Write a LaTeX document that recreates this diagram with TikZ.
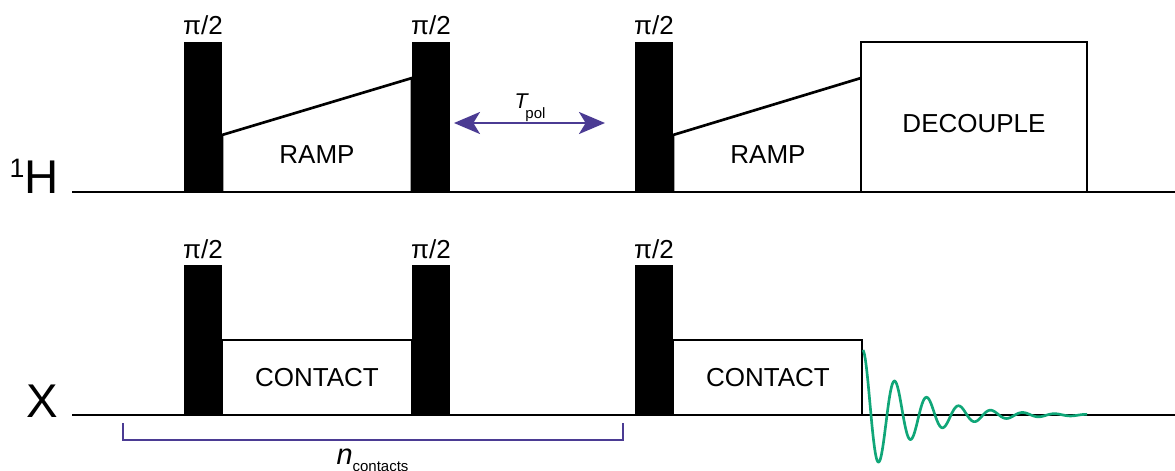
\documentclass[tikz,border=0pt]{standalone}
\usepackage{fontspec}
\setmainfont{Liberation Sans}
\usetikzlibrary{arrows.meta}
\definecolor{polpurple}{HTML}{4B3B93}
\definecolor{fidgreen}{HTML}{10A678}
\tikzset{
  pulse/.style={fill=black,draw=none},
  seqline/.style={line width=2pt},
  txt/.style={inner sep=0pt,font=\fontsize{19.5}{20}\selectfont},
  chan/.style={inner sep=0pt,font=\fontsize{35.5}{36}\selectfont},
}
\begin{document}
\begin{tikzpicture}[x=0.75pt,y=-0.75pt]
  \useasboundingbox (0,0) rectangle (1175,471);
  \clip (0,0) rectangle (1175,471);
  % channel labels
  \node[chan,anchor=base east] (protonlab) at (59,193)
    {\raisebox{12pt}{\fontsize{20}{20}\selectfont 1}H};
  \node[chan,anchor=base east] (xlab) at (58,417) {X};
  % pulses, both channels
  \foreach \px/\pname in {184/a,412/b,635/c} {
    \fill[pulse] (\px,42) rectangle ++(38,150);
    \fill[pulse] (\px,265) rectangle ++(38,150);
    \node[txt,anchor=base] (top\pname) at (\px+19,34) {π/2};
    \node[txt,anchor=base] (bot\pname) at (\px+19,258) {π/2};
  }
  % ramps and contact blocks
  \draw[seqline] (222,192) -- (222,135) -- (412,78) -- (412,192);
  \draw[seqline] (673,192) -- (673,135) -- (861,78);
  \draw[seqline] (861,192) rectangle (1087,42);
  \draw[seqline] (222,415) -- (222,340) -- (412,340) -- (412,415);
  \draw[seqline] (673,415) -- (673,340) -- (862,340) -- (862,415);
  \node[txt] (rampa) at (317,155) {RAMP};
  \node[txt] (rampb) at (768,155) {RAMP};
  \node[txt] (dec) at (974,124) {DECOUPLE};
  \node[txt] (conta) at (317,378) {CONTACT};
  \node[txt] (contb) at (768,378) {CONTACT};
  % baselines
  \draw[seqline] (72,192) -- (1175,192);
  \draw[seqline] (72,415) -- (1175,415);
  % polarisation delay
  \coordinate (pola) at (454,123);
  \coordinate (polb) at (605,123);
  \draw[polpurple,line width=2pt,{Stealth[length=19.5pt,width=16.5pt,inset=5pt]}-{Stealth[length=19.5pt,width=16.5pt,inset=5pt]}] (pola) -- (polb);
  \node[txt,anchor=base,font=\fontsize{16}{16}\selectfont] (tpol) at (530,108)
    {\textit{T}\hspace{-2.5pt}\raisebox{-7.5pt}{\fontsize{11.25}{12}\selectfont pol}};
  % repeat bracket
  \coordinate (bra) at (123,423);
  \coordinate (brb) at (623,423);
  \draw[polpurple,line width=2pt] (bra) -- (123,440) -- (623,440) -- (brb);
  \node[txt,anchor=base,font=\fontsize{21.7}{22}\selectfont] (ncont) at (372.5,464)
    {\textit{n}\raisebox{-5.25pt}{\fontsize{11.25}{12}\selectfont contacts}};
  % fid
  \draw[fidgreen,line width=2pt,line join=round] plot[domain=0:224,samples=400]
    ({863+\x},{415-65*exp(-\x/49)*cos(\x/32*360)});
\end{tikzpicture}
\end{document}
